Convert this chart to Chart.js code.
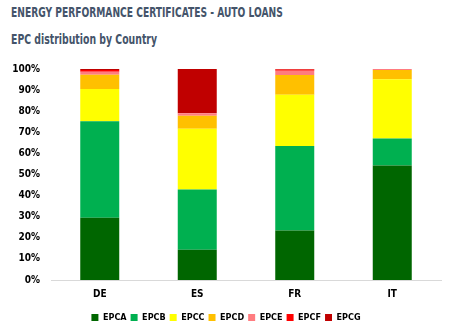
<!DOCTYPE html>
<html>
<head>
<meta charset="utf-8">
<script src="https://cdn.jsdelivr.net/npm/chart.js@4/dist/chart.umd.min.js"></script>
<style>
  html,body{margin:0;padding:0;background:#fff;overflow:hidden;}
  .hd{position:absolute;left:11px;color:#44546A;font-family:"Liberation Sans Narrow","DejaVu Sans Condensed",sans-serif;
      font-weight:bold;font-size:14px;line-height:14px;white-space:nowrap;transform-origin:0 0;}
  #t1{top:5px;}
  #t2{top:32px;}
  #wrap{position:absolute;left:0;top:52px;width:451px;height:274px;}
</style>
</head>
<body>
<div class="hd" id="t1">ENERGY PERFORMANCE CERTIFICATES - AUTO LOANS</div>
<div class="hd" id="t2">EPC distribution by Country</div>
<div id="wrap"><canvas id="epc"></canvas></div>
<script>
// EPC share per country, in percent
const countries = ['DE', 'ES', 'FR', 'IT'];
const epcA = [29.5, 14.3, 23.5, 54.3];
const epcB = [45.7, 28.6, 40.0, 12.8];
const epcC = [15.3, 28.8, 24.3, 28.1];
const epcD = [6.8, 6.1, 9.3, 4.3];
const epcE = [1.4, 1.2, 2.1, 0.5];
const epcF = [0.8, 0.2, 0.6, 0.0];
const epcG = [0.5, 20.8, 0.2, 0.0];

const FONT = '"Liberation Sans Narrow", "DejaVu Sans Condensed", sans-serif';
const EPC = [
  { label: 'EPCA', data: epcA, color: '#006600' },
  { label: 'EPCB', data: epcB, color: '#00B050' },
  { label: 'EPCC', data: epcC, color: '#FFFF00' },
  { label: 'EPCD', data: epcD, color: '#FFC000' },
  { label: 'EPCE', data: epcE, color: '#FF7C80' },
  { label: 'EPCF', data: epcF, color: '#FF0000' },
  { label: 'EPCG', data: epcG, color: '#C00000' }
];

// squeeze the headings to the condensed width of the report font
function fitHeading(id, w) {
  const el = document.getElementById(id);
  el.style.transform = 'scaleX(' + (w / el.offsetWidth) + ')';
}
fitHeading('t1', 272);
fitHeading('t2', 146);

new Chart(document.getElementById('epc'), {
  type: 'bar',
  data: {
    labels: countries,
    datasets: EPC.map(s => ({
      label: s.label, data: s.data, backgroundColor: s.color,
      borderWidth: 0, barPercentage: 0.4, categoryPercentage: 1
    }))
  },
  options: {
    responsive: true, maintainAspectRatio: false, animation: false,
    layout: { padding: { left: 11, right: 10, top: 17, bottom: -6 } },
    plugins: {
      legend: {
        position: 'bottom',
        labels: {
          boxWidth: 7, boxHeight: 7, padding: 4, color: '#000',
          font: { family: FONT, size: 9, weight: 'bold' }
        }
      },
      tooltip: { enabled: false }
    },
    scales: {
      x: {
        stacked: true,
        grid: { display: false, drawTicks: false },
        border: { color: '#D9D9D9' },
        ticks: { color: '#000', padding: 8, font: { family: FONT, size: 10, weight: 'bold' } },
        afterFit: s => { s.height += 1; }
      },
      y: {
        stacked: true, min: 0, max: 100,
        grid: { display: false, drawTicks: false },
        border: { display: false },
        ticks: {
          stepSize: 10, color: '#000', padding: 11,
          font: { family: FONT, size: 10, weight: 'bold' },
          callback: v => v + '%'
        },
        afterFit: s => { s.width = 40; }
      }
    }
  }
});
</script>
</body>
</html>
